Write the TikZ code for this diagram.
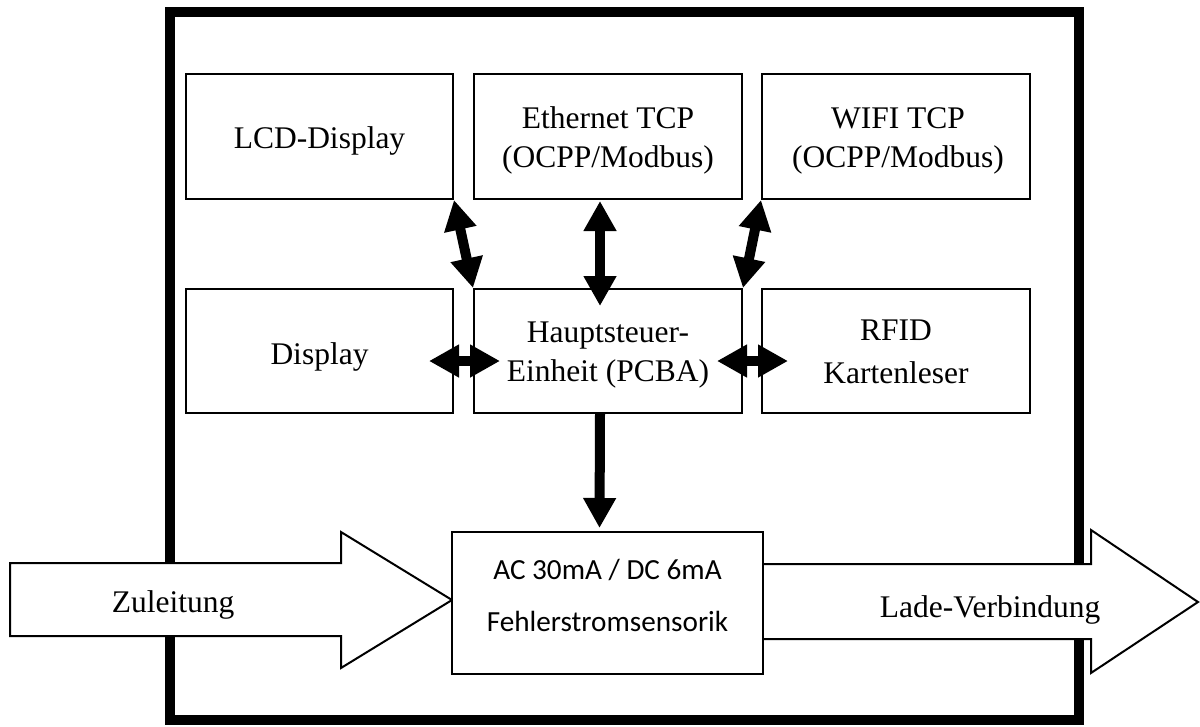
\documentclass[tikz,border=0pt]{standalone}
\usepackage{fontspec}
\setmainfont{Liberation Serif}
\newfontfamily\calib{Carlito}
\usetikzlibrary{arrows.meta}
\begin{document}
\begin{tikzpicture}[x=1pt,y=-1pt,
  box/.style={draw,line width=2pt,fill=white,inner sep=0pt},
  txt/.style={font=\fontsize{31.5}{39}\selectfont,align=center,inner sep=0pt},
  stxt/.style={font=\calib\fontsize{29.2}{52}\selectfont,align=center,inner sep=0pt},
  dbl/.style={line width=10pt,{Triangle[length=30pt,width=31pt]}-{Triangle[length=30pt,width=31pt]}},
  sgl/.style={line width=10pt,-{Triangle[length=30pt,width=31pt]}},
  bigarrow/.style={line width=2pt,fill=white,line join=miter}]
\useasboundingbox (0,0) rectangle (1200,726);
% outer frame
\draw[line width=10pt] (170,12) rectangle (1078.5,720);
% boxes
\node[box,minimum width=267pt,minimum height=125pt] (lcd) at (319.5,136.5) {};
\node[box,minimum width=268pt,minimum height=125pt] (eth) at (608,136.5) {};
\node[box,minimum width=268pt,minimum height=125pt] (wifi) at (896,136.5) {};
\node[box,minimum width=267pt,minimum height=124pt] (disp) at (319.5,351) {};
\node[box,minimum width=268pt,minimum height=124pt] (main) at (608,351) {};
\node[box,minimum width=268pt,minimum height=124pt] (rfid) at (896,351) {};
% big arrows
\draw[bigarrow] (10,563) -- (341,563) -- (341,532) -- (452,600) -- (341,668) -- (341,636) -- (10,636) -- cycle;
\fill[white] (763,564) -- (1091,564) -- (1091,530) -- (1198,602) -- (1091,673) -- (1091,639) -- (763,639) -- cycle;
\draw[line width=2pt,line join=miter] (763,564) -- (1091,564) -- (1091,530) -- (1198,602) -- (1091,673) -- (1091,639) -- (763,639);
\node[box,minimum width=311pt,minimum height=142pt] (sens) at (607.5,603) {};
% texts
\node[txt,yshift=-4.3pt] (lcdt) at (lcd) {LCD-Display};
\node[txt,yshift=-4pt] (etht) at (eth) {Ethernet TCP\\(OCPP/Modbus)};
\node[txt,yshift=-4pt,xshift=2pt] (wifit) at (wifi) {WIFI TCP\\(OCPP/Modbus)};
\node[txt,yshift=-6pt] (dispt) at (disp) {Display};
\node[txt,yshift=-4.5pt] (maint) at (main) {Hauptsteuer-\\Einheit (PCBA)};
\node[txt,font=\fontsize{31.5}{43}\selectfont,yshift=-1pt] (rfidt) at (rfid) {RFID\\Kartenleser};
\node[stxt,yshift=7.5pt] (senst) at (sens) {AC 30mA / DC 6mA\\Fehlerstromsensorik};
\node[txt] (zul) at (173,604.8) {Zuleitung};
\node[txt] (lade) at (990,609.8) {Lade-Verbindung};
% connectors
\draw[dbl] (lcd.south east) -- (main.north west);
\draw[dbl] (wifi.south west) -- (main.north east);
\draw[dbl] ([xshift=-8pt,yshift=-1pt]eth.south) -- ([xshift=-8pt,yshift=-18pt]main.north);
\draw[dbl] ([xshift=-25pt,yshift=-10pt]disp.east) -- ([xshift=27pt,yshift=-10pt]main.west);
\draw[dbl] ([xshift=-26pt,yshift=-10pt]main.east) -- ([xshift=27pt,yshift=-10pt]rfid.west);
\draw[sgl] ([xshift=-8pt]main.south) -- ([xshift=-8pt,yshift=3pt]sens.north);
\end{tikzpicture}
\end{document}
